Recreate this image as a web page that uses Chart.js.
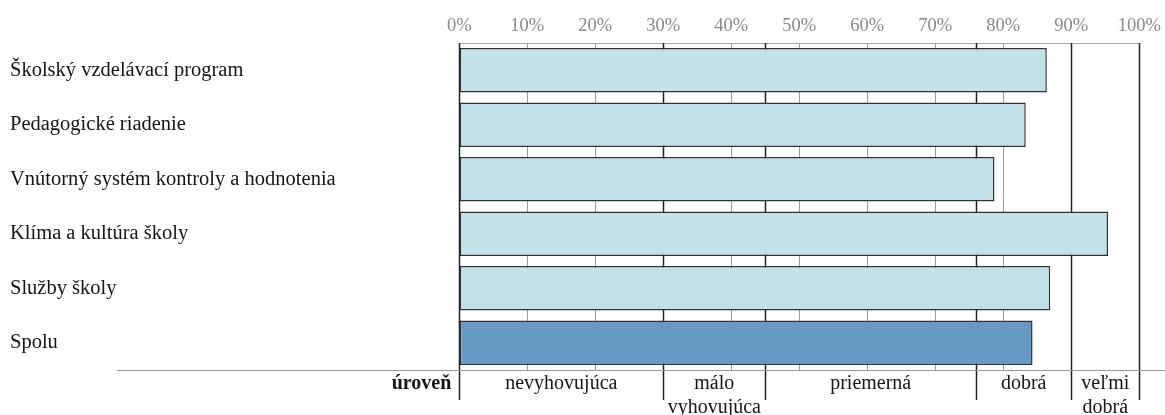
<!DOCTYPE html>
<html lang="sk">
<head>
<meta charset="utf-8">
<title>Úroveň hodnotenia oblastí</title>
<script src="https://cdn.jsdelivr.net/npm/chart.js@4.4.1/dist/chart.umd.min.js"></script>
<style>
    html, body { margin: 0; padding: 0; background: #fff; }
    #wrap { position: relative; width: 1165px; height: 415px; }
</style>
</head>
<body>
<div id="wrap"><canvas id="levelChart"></canvas></div>
<script>
// hodnotené oblasti a ich percentá
const categories = [
    "Školský vzdelávací program",
    "Pedagogické riadenie",
    "Vnútorný systém kontroly a hodnotenia",
    "Klíma a kultúra školy",
    "Služby školy",
    "Spolu",
];
const values = [86.4, 83.3, 78.7, 95.4, 86.9, 84.3];

// popisy osi x
const xTicks = [0, 10, 20, 30, 40, 50, 60, 70, 80, 90, 100];

// hranice úrovní a ich názvy
const levelBounds = [0, 30, 45, 76, 90, 100];
const levelNames = ["nevyhovujúca", "málo\nvyhovujúca", "priemerná", "dobrá", "veľmi\ndobrá"];
const levelTitle = "úroveň";

const SERIF = "'Liberation Serif', 'Times New Roman', serif";
const LIGHT = "#c3e1e9";
const DARK = "#6699c3";

// čiary úrovní pod stĺpcami + tabuľka úrovní dole
const levelLinesPlugin = {
    id: "levelLines",
    beforeDatasetsDraw(chart) {
        const { ctx, chartArea } = chart;
        const x = chart.scales.x;
        ctx.save();
        ctx.strokeStyle = "#222";
        ctx.lineWidth = 1.5;
        levelBounds.forEach((b) => {
            const px = Math.round(x.getPixelForValue(b)) + 0.5;
            ctx.beginPath();
            ctx.moveTo(px, chartArea.top);
            ctx.lineTo(px, chartArea.bottom + 30);
            ctx.stroke();
        });
        ctx.restore();
    },
    afterDraw(chart) {
        const { ctx, chartArea } = chart;
        const x = chart.scales.x;
        ctx.save();
        ctx.strokeStyle = "#999";
        ctx.lineWidth = 1;
        ctx.beginPath();
        ctx.moveTo(117, chartArea.bottom + 0.5);
        ctx.lineTo(chart.width, chartArea.bottom + 0.5);
        ctx.stroke();

        ctx.fillStyle = "#151515";
        ctx.textBaseline = "alphabetic";
        ctx.font = "bold 20px " + SERIF;
        ctx.textAlign = "right";
        ctx.fillText(levelTitle, chartArea.left - 8, chartArea.bottom + 19);

        ctx.font = "20px " + SERIF;
        ctx.textAlign = "center";
        levelNames.forEach((name, i) => {
            const cx = (x.getPixelForValue(levelBounds[i]) + x.getPixelForValue(levelBounds[i + 1])) / 2;
            name.split("\n").forEach((line, j) => {
                ctx.fillText(line, cx, chartArea.bottom + 19 + j * 24);
            });
        });
        ctx.restore();
    },
};

new Chart(document.getElementById("levelChart"), {
    type: "bar",
    data: {
        labels: categories,
        datasets: [
            {
                data: values,
                backgroundColor: (c) => (c.dataIndex === categories.length - 1 ? DARK : LIGHT),
                borderColor: "#333",
                borderWidth: 1.5,
                borderSkipped: false,
                barPercentage: 0.82,
                categoryPercentage: 1,
            },
        ],
    },
    options: {
        indexAxis: "y",
        responsive: true,
        maintainAspectRatio: false,
        animation: false,
        events: [],
        layout: { padding: { left: 10, right: 25.7, top: 0, bottom: 45 } },
        plugins: {
            legend: { display: false },
            tooltip: { enabled: false },
        },
        scales: {
            x: {
                position: "top",
                min: 0,
                max: 100,
                afterBuildTicks: (scale) => {
                    scale.ticks = xTicks.map((v) => ({ value: v }));
                },
                afterFit: (scale) => {
                    scale.height = 43;
                    // šírku plochy určuje padding layoutu
                    scale.paddingLeft = 0;
                    scale.paddingRight = 0;
                },
                grid: { color: "#9a9a9a", lineWidth: 1, drawTicks: false },
                border: { color: "#aaa", width: 1 },
                ticks: {
                    padding: 6,
                    color: "#8a8a8a",
                    font: { family: SERIF, size: 18.5 },
                    callback: (v) => v + "%",
                },
            },
            y: {
                afterFit: (scale) => {
                    scale.width = 449.3;
                },
                grid: { display: false },
                border: { display: false },
                ticks: {
                    crossAlign: "far",
                    color: "#151515",
                    font: { family: SERIF, size: 20.5 },
                },
            },
        },
    },
    plugins: [levelLinesPlugin],
});
</script>
</body>
</html>
